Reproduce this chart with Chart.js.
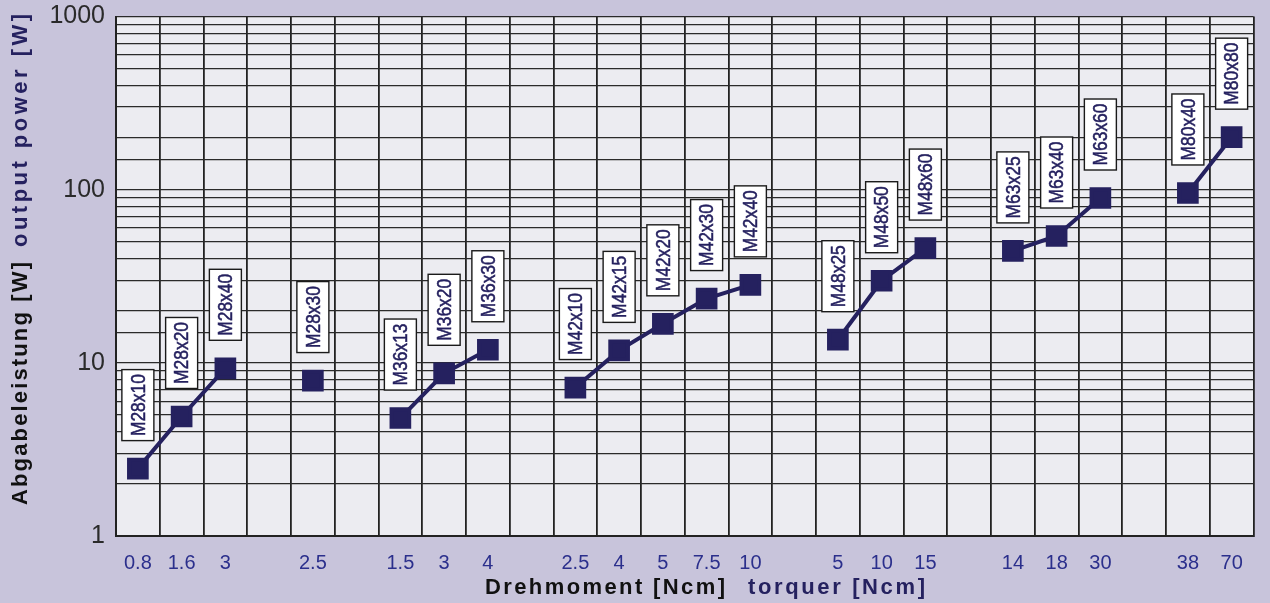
<!DOCTYPE html>
<html>
<head>
<meta charset="utf-8">
<script src="https://cdn.jsdelivr.net/npm/chart.js@4/dist/chart.umd.min.js"></script>
<style>
html,body{margin:0;padding:0;background:#c8c4db;}
#wrap{width:1270px;height:603px;position:relative;}
</style>
</head>
<body>
<div id="wrap"><canvas id="motorChart" width="1270" height="603"></canvas></div>
<script>

// torque per column (blank = empty column between motor families)
const torqueLabels = ['0.8','1.6','3','','2.5','','1.5','3','4','','2.5','4','5','7.5','10','','5','10','15','','14','18','30','','38','70'];

// output power [W], null where no motor
const outputPower = [2.45,4.9,9.3,null,7.9,null,4.8,8.7,11.9,null,7.2,11.8,16.8,23.5,28.2,null,13.6,29.8,46,null,44.3,54,89.5,null,95.7,201];

const motorNames = ['M28x10','M28x20','M28x40','','M28x30','','M36x13','M36x20','M36x30','','M42x10','M42x15','M42x20','M42x30','M42x40','','M48x25','M48x50','M48x60','','M63x25','M63x40','M63x60','','M80x40','M80x80'];

const yMajorTicks = [1,10,100,1000];

const navy = "#25215f";

// plot background
const plotBg = {
id:"plotBg",
beforeDraw(chart){
const a = chart.chartArea, c = chart.ctx;
c.save();
c.fillStyle = "#ececf1";
c.fillRect(a.left,a.top,a.right-a.left,a.bottom-a.top);
c.restore();
}
};

// white boxes with the motor names
const nameBoxes = {
id:"nameBoxes",
afterDatasetsDraw(chart){
const c = chart.ctx;
const xs = chart.scales.x, ys = chart.scales.y;
c.save();
motorNames.forEach(function(name,i){
if(!name || outputPower[i]==null) return;
const px = xs.getPixelForValue(i);
const py = ys.getPixelForValue(outputPower[i]);
const w = 32, h = 71, bottom = py - 28;
c.fillStyle = "#ffffff";
c.fillRect(px-w/2,bottom-h,w,h);
c.strokeStyle = "#1a1a1a";
c.lineWidth = 1.4;
c.strokeRect(px-w/2,bottom-h,w,h);
c.translate(px,bottom-h/2);
c.rotate(-Math.PI/2);
c.font = "21px 'Liberation Sans', Arial, sans-serif";
const tw = c.measureText(name).width;
c.scale(Math.min(1,62/tw),1);
c.fillStyle = navy;
c.strokeStyle = navy;
c.lineWidth = 0.5;
c.textAlign = "center";
c.textBaseline = "middle";
c.fillText(name,0,1);
c.strokeText(name,0,1);
c.setTransform(1,0,0,1,0,0);
});
c.restore();
}
};

// draw a string stretched to a given length with letter spacing
function spacedText(c,txt,x,y,len){
c.letterSpacing = "0px";
const w = c.measureText(txt).width;
const sp = Math.max(0,(len-w)/(txt.length-1));
c.letterSpacing = sp + "px";
c.fillText(txt,x,y);
c.letterSpacing = "0px";
}

// two-coloured axis titles
const axisTitles = {
id:"axisTitles",
afterDraw(chart){
const c = chart.ctx;
c.save();
c.font = "bold 22px 'Liberation Sans', Arial, sans-serif";
c.textBaseline = "middle";
c.textAlign = "left";

// x title
c.fillStyle = "#111";
spacedText(c,"Drehmoment [Ncm]",485,588,240);
c.fillStyle = navy;
spacedText(c,"torquer [Ncm]",748,588,177);

// y title
c.translate(21,505);
c.rotate(-Math.PI/2);
c.fillStyle = "#111";
spacedText(c,"Abgabeleistung [W]",0,0,243);
c.fillStyle = navy;
spacedText(c,"output power [W]",258,0,233);
c.restore();
}
};

new Chart("motorChart",{

type:"line",

data:{
labels:torqueLabels,
datasets:[{
label:"output power",
data:outputPower,
borderColor:navy,
backgroundColor:navy,
borderWidth:4,
pointStyle:"rect",
pointRadius:12.5,
pointHoverRadius:12.5,
spanGaps:false,
tension:0
}]
},

options:{
responsive:false,
animation:false,
layout:{padding:{top:14,right:4,left:0,bottom:0}},
plugins:{
legend:{display:false},
tooltip:{enabled:false}
},
scales:{
x:{
type:"category",
offset:true,
grid:{offset:true,color:"#222",lineWidth:1.8,drawTicks:false},
border:{color:"#222",width:2},
ticks:{
color:"#2b2f8c",
font:{family:"'Liberation Sans', Arial, sans-serif",size:20},
padding:15,
autoSkip:false,
maxRotation:0
},
afterFit(s){ s.height = 67; s.paddingLeft = 0; s.paddingRight = 0; }
},
y:{
type:"logarithmic",
min:1,
max:1000,
grid:{color:"#2a2a2a",lineWidth:1.3,drawTicks:false},
border:{color:"#222",width:2},
ticks:{
color:"#2a2a2a",
font:{family:"'Liberation Sans', Arial, sans-serif",size:25},
padding:11,
autoSkip:false,
callback:function(v){ return yMajorTicks.includes(v) ? String(v) : ""; }
},
afterFit(s){ s.width = 116; s.paddingTop = 0; s.paddingBottom = 0; }
}
}
},

plugins:[plotBg,nameBoxes,axisTitles]

});

</script>
</body>
</html>
